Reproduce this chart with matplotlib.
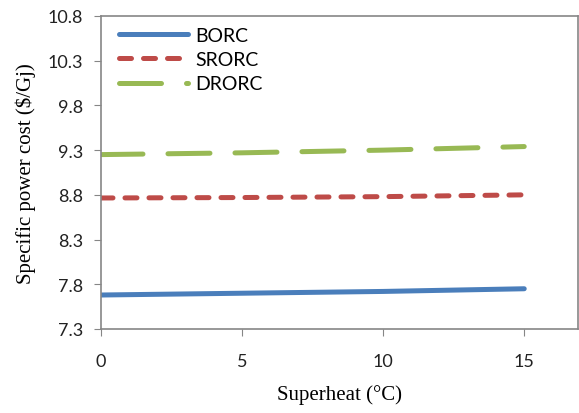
import matplotlib.pyplot as plt

# superheat values and specific power cost for each cycle
superheat = [0, 5, 10, 15]
borc = [7.68, 7.70, 7.72, 7.75]
srorc = [8.765, 8.77, 8.78, 8.80]
drorc = [9.25, 9.27, 9.30, 9.34]

yticks = [7.3, 7.8, 8.3, 8.8, 9.3, 9.8, 10.3, 10.8]
xticks = [0, 5, 10, 15]

fig = plt.figure(figsize=(5.79, 4.14), dpi=100)
ax = fig.add_axes([0.1744, 0.2029, 0.8236, 0.7561])

ax.plot(superheat, borc, color='#4a7ebb', lw=3.6, solid_capstyle='round', label='BORC')
ax.plot(superheat, srorc, color='#be4b48', lw=3.6, dash_capstyle='round',
        dashes=(2.4, 2.4), label='SRORC')
ax.plot(superheat, drorc, color='#98b954', lw=3.6, dash_capstyle='round',
        dashes=(8.4, 5.0), label='DRORC')

ax.set_xlim(0, 16.9)
ax.set_ylim(7.3, 10.8)
ax.set_xticks(xticks)
ax.set_yticks(yticks)
ax.set_yticklabels([f'{v:.1f}' for v in yticks], family='Lato')
ax.set_xticklabels([str(v) for v in xticks], family='Lato')

for s in ax.spines.values():
    s.set_color('#868686')
    s.set_linewidth(1.2)
ax.tick_params(direction='out', length=5, color='#868686', labelsize=13,
               labelcolor='#222222', pad=8)
ax.tick_params(axis='x', pad=12)

ax.set_xlabel('Superheat (°C)', family='Liberation Serif', fontsize=15, labelpad=11)
ax.set_ylabel('Specific power cost ($/Gj)', family='Liberation Serif', fontsize=15,
              labelpad=8)

ax.legend(loc='upper left', bbox_to_anchor=(0.01, 1.008), frameon=False,
          prop={'family': 'Lato', 'size': 14}, handlelength=3.55,
          handletextpad=0.35, labelspacing=0.37, borderaxespad=0.3)

fig.savefig('out.png', dpi=100)
